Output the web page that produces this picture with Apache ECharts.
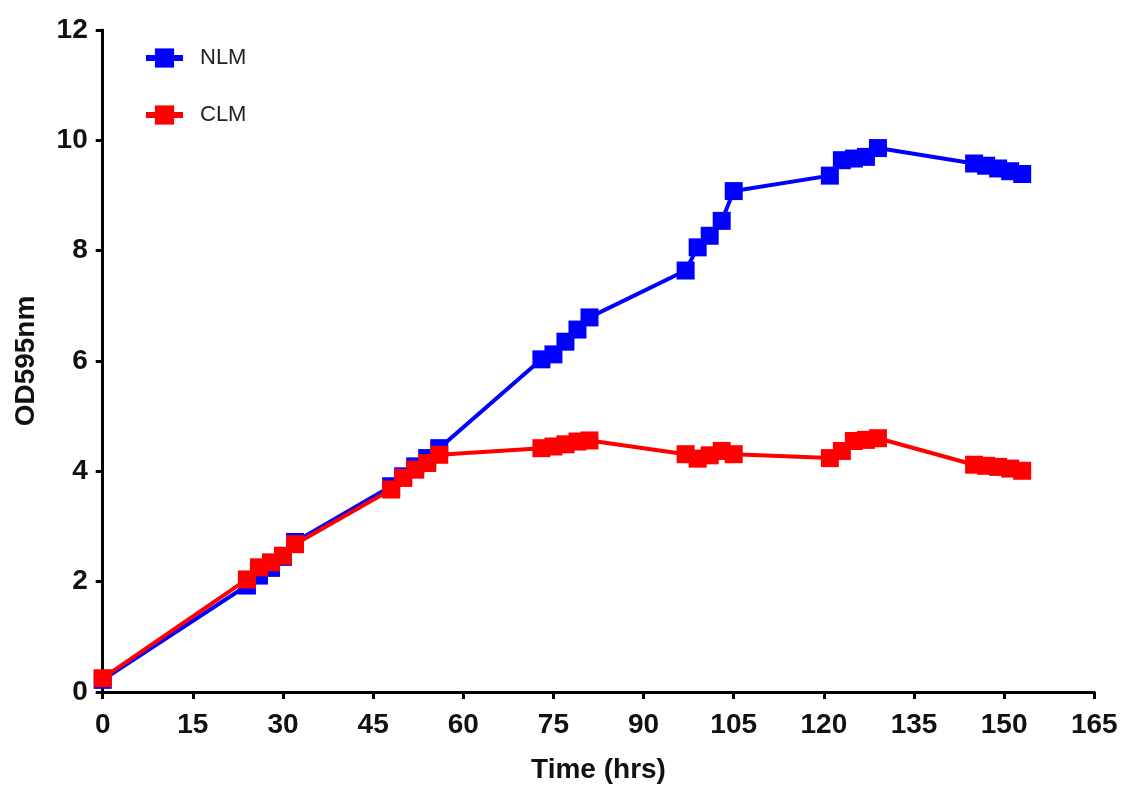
<!DOCTYPE html>
<html>
<head>
<meta charset="utf-8">
<title>OD595nm over time</title>
<script src="https://cdn.jsdelivr.net/npm/echarts@6/dist/echarts.min.js"></script>
<style>
  html, body { margin: 0; padding: 0; background: #fff; }
  #chart { width: 1133px; height: 789px; }
</style>
</head>
<body>
<div id="chart"></div>
<script>
// Sampling times (hours)
const hours = [0, 24, 26, 28, 30, 32, 48, 50, 52, 54, 56, 73, 75, 77, 79, 81,
  97, 99, 101, 103, 105, 121, 123, 125, 127, 129, 145, 147, 149, 151, 153];

// Optical density at 595 nm
const nlm = [0.22, 1.93, 2.11, 2.25, 2.45, 2.72, 3.73, 3.91, 4.09, 4.24, 4.42,
  6.03, 6.12, 6.35, 6.57, 6.79, 7.64, 8.06, 8.27, 8.54, 9.08,
  9.36, 9.64, 9.67, 9.70, 9.86, 9.58, 9.54, 9.49, 9.44, 9.39];
const clm = [0.25, 2.04, 2.26, 2.35, 2.47, 2.68, 3.67, 3.88, 4.03, 4.15, 4.30,
  4.42, 4.45, 4.49, 4.54, 4.56, 4.31, 4.23, 4.29, 4.37, 4.31,
  4.24, 4.37, 4.55, 4.57, 4.60, 4.12, 4.10, 4.08, 4.05, 4.01];

const seriesNames = ['NLM', 'CLM'];
const seriesColors = ['#0000ff', '#ff0000'];

const FONT = '"Liberation Sans", Arial, sans-serif';
const pairs = (ys) => hours.map((h, i) => [h, ys[i]]);

const axisLine = { show: true, lineStyle: { color: '#000', width: 3 } };
const axisTick = { show: true, inside: false, length: 7, lineStyle: { color: '#000', width: 3 } };
const tickText = { fontFamily: FONT, fontSize: 28, fontWeight: 'bold', color: '#111' };

const chart = echarts.init(document.getElementById('chart'), null, { renderer: 'canvas' });
chart.setOption({
  animation: false,
  backgroundColor: '#fff',
  grid: { left: 102.7, right: 38.7, top: 30, bottom: 93, containLabel: false },
  legend: {
    orient: 'vertical',
    left: 138,
    top: 42,
    itemWidth: 37,
    itemHeight: 24,
    itemGap: 35,
    data: seriesNames,
    lineStyle: { width: 6 },
    textStyle: { fontFamily: FONT, fontSize: 22, color: '#222', padding: [0, 0, 0, 12] }
  },
  xAxis: {
    type: 'value',
    min: 0,
    max: 165,
    interval: 15,
    name: 'Time (hrs)',
    nameLocation: 'middle',
    nameGap: 64,
    nameTextStyle: tickText,
    axisLine: axisLine,
    axisTick: axisTick,
    splitLine: { show: false },
    axisLabel: Object.assign({ margin: 19 }, tickText)
  },
  yAxis: {
    type: 'value',
    min: 0,
    max: 12,
    interval: 2,
    name: 'OD595nm',
    nameLocation: 'middle',
    nameGap: 62,
    nameRotate: 90,
    nameTextStyle: tickText,
    axisLine: axisLine,
    axisTick: axisTick,
    splitLine: { show: false },
    axisLabel: Object.assign({ margin: 15 }, tickText)
  },
  series: [
    {
      name: seriesNames[0],
      type: 'line',
      data: pairs(nlm),
      symbol: 'rect',
      symbolSize: 18,
      color: seriesColors[0],
      lineStyle: { width: 4, color: seriesColors[0] },
      itemStyle: { color: seriesColors[0] },
      z: 2
    },
    {
      name: seriesNames[1],
      type: 'line',
      data: pairs(clm),
      symbol: 'rect',
      symbolSize: 18,
      color: seriesColors[1],
      lineStyle: { width: 4, color: seriesColors[1] },
      itemStyle: { color: seriesColors[1] },
      z: 3
    }
  ]
});
</script>
</body>
</html>
